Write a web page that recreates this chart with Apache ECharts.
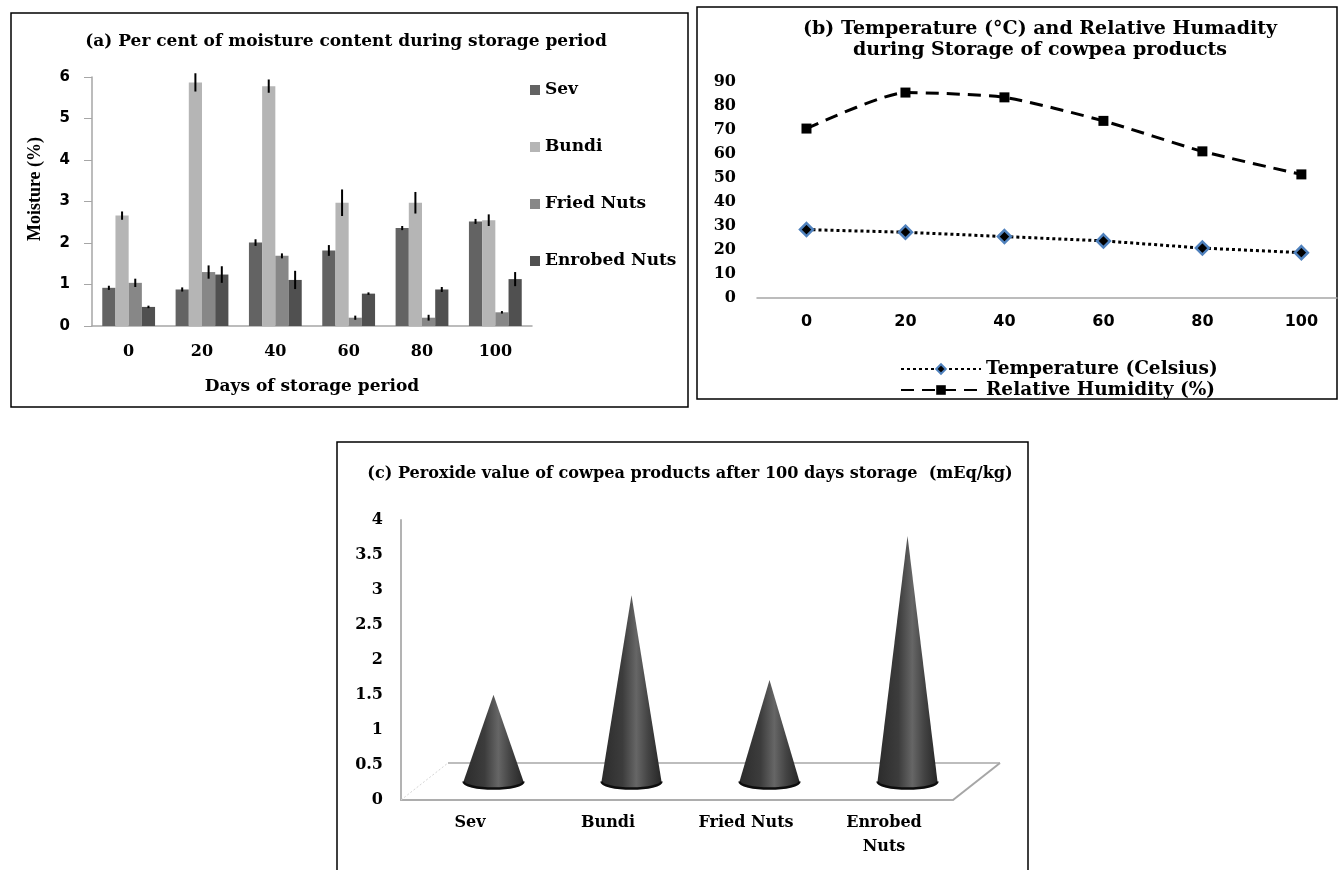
<!DOCTYPE html>
<html>
<head>
<meta charset="utf-8">
<title>Cowpea products during storage</title>
<script src="https://cdn.jsdelivr.net/npm/echarts@6/dist/echarts.min.js"></script>
<style>
html,body{margin:0;padding:0;background:#fff;}
#main{width:1340px;height:870px;}
</style>
</head>
<body>
<div id="main"></div>
<script>
// (a) moisture content (%) during storage
var days = ['0', '20', '40', '60', '80', '100'];
var products = ['Sev', 'Bundi', 'Fried Nuts', 'Enrobed Nuts'];
var sevMoist = [0.92, 0.88, 2.01, 1.82, 2.36, 2.52];
var bundiMoist = [2.66, 5.87, 5.78, 2.97, 2.97, 2.55];
var friedMoist = [1.04, 1.30, 1.69, 0.20, 0.20, 0.33];
var enrobedMoist = [0.46, 1.24, 1.11, 0.78, 0.88, 1.13];
var sevErr = [0.05, 0.05, 0.08, 0.13, 0.05, 0.06];
var bundiErr = [0.10, 0.22, 0.16, 0.32, 0.26, 0.14];
var friedErr = [0.10, 0.16, 0.06, 0.05, 0.07, 0.03];
var enrobedErr = [0.03, 0.20, 0.22, 0.03, 0.06, 0.17];

// (b) temperature and relative humidity
var storageDays = [0, 20, 40, 60, 80, 100];
var tempC = [28.5, 27.4, 25.6, 23.8, 20.8, 18.9];
var relHum = [70.6, 85.6, 83.6, 73.8, 61.1, 51.5];

// (c) peroxide value after 100 days (mEq/kg)
var peroxCats = ['Sev', 'Bundi', 'Fried Nuts', 'Enrobed\nNuts'];
var peroxVals = [1.24, 2.66, 1.45, 3.51];

var chart = echarts.init(document.getElementById('main'));

var SERIF = 'DejaVu Serif';
var SANS = 'DejaVu Sans';
var barColors = ['#636363', '#b5b5b5', '#878787', '#505050'];
var GAP = 0.28;          // bar category gap (a)
var DX = 47, DY = 37;    // fake 3d floor depth (c)

var moistSeries = [sevMoist, bundiMoist, friedMoist, enrobedMoist];
var errSeries = [sevErr, bundiErr, friedErr, enrobedErr];
var errData = [];
moistSeries.forEach(function (arr, s) {
	arr.forEach(function (v, i) { errData.push([i, s, v, errSeries[s][i]]); });
});
var pair = function (ys) { return ys.map(function (y, i) { return [storageDays[i], y]; }); };

var txt = function (size, fam) {
	return {fontFamily: fam || SERIF, fontWeight: 'bold', fontSize: size, color: '#000'};
};

var coneGrad = new echarts.graphic.LinearGradient(0, 0, 1, 0, [
	{offset: 0, color: '#2c2c2c'},
	{offset: 0.35, color: '#3c3c3c'},
	{offset: 0.58, color: '#666'},
	{offset: 0.78, color: '#434343'},
	{offset: 1, color: '#262626'}
]);

var series = products.map(function (name, s) {
	return {
		type: 'bar', name: name, xAxisIndex: 0, yAxisIndex: 0,
		data: moistSeries[s], barGap: '0%', barCategoryGap: (GAP * 100) + '%',
		itemStyle: {color: barColors[s]}
	};
});

series.push({//error bars
	type: 'custom', name: 'err', xAxisIndex: 0, yAxisIndex: 0, z: 5, silent: true,
	data: errData, encode: {x: 0, y: 2},
	renderItem: function (params, api) {
		var cat = api.value(0), s = api.value(1), v = api.value(2), e = api.value(3);
		var c = api.coord([cat, v]);
		var barW = api.size([1, 0])[0] * (1 - GAP) / 4;
		var x = c[0] + (s - 1.5) * barW;
		var hi = api.coord([cat, v + e])[1], lo = api.coord([cat, v - e])[1];
		return {type: 'line', shape: {x1: x, y1: hi, x2: x, y2: lo}, style: {stroke: '#000', lineWidth: 2}};
	}
});

series.push({
	type: 'line', name: 'Temperature (Celsius)', xAxisIndex: 1, yAxisIndex: 1, data: pair(tempC),
	symbol: 'diamond', symbolSize: 13,
	lineStyle: {color: '#000', width: 3, type: [3, 3]},
	itemStyle: {color: '#000', borderColor: '#4f81bd', borderWidth: 2.5}
});
series.push({
	type: 'line', name: 'Relative Humidity (%)', xAxisIndex: 1, yAxisIndex: 1, data: pair(relHum),
	symbol: 'rect', symbolSize: 10, smooth: 0.2,
	lineStyle: {color: '#000', width: 3, type: [13, 8]},
	itemStyle: {color: '#000'}
});

series.push({//3d floor
	type: 'custom', name: 'floor', xAxisIndex: 2, yAxisIndex: 2, z: 1, silent: true,
	data: [[0, 0]],
	renderItem: function (params, api) {
		var cs = params.coordSys;
		var x0 = cs.x, x1 = cs.x + cs.width, y0 = cs.y + cs.height;
		return {type: 'group', children: [
			{type: 'line', shape: {x1: x0 + DX, y1: y0 - DY, x2: x1 + DX, y2: y0 - DY}, style: {stroke: '#bdbdbd', lineWidth: 2}},
			{type: 'line', shape: {x1: x1, y1: y0, x2: x1 + DX, y2: y0 - DY}, style: {stroke: '#a6a6a6', lineWidth: 2}},
			{type: 'line', shape: {x1: x0, y1: y0, x2: x0 + DX, y2: y0 - DY}, style: {stroke: '#d6d6d6', lineWidth: 1, lineDash: [2, 2]}}
		]};
	}
});

series.push({//cones
	type: 'custom', name: 'peroxide', xAxisIndex: 2, yAxisIndex: 2, z: 5, silent: true,
	data: peroxVals.map(function (v, i) { return [i, v]; }),
	renderItem: function (params, api) {
		var base = api.coord([api.value(0), 0]);
		var top = api.coord([api.value(0), api.value(1)]);
		var cx = base[0] + DX / 2, by = base[1] - DY / 2, ay = top[1] - DY / 2;
		var hw = 30, ry = 7;
		var body = 'M' + cx + ',' + ay + ' L' + (cx + hw) + ',' + by + ' A' + hw + ',' + ry + ' 0 0 1 ' + (cx - hw) + ',' + by + ' Z';
		var rim = 'M' + (cx - hw) + ',' + by + ' A' + hw + ',' + ry + ' 0 0 0 ' + (cx + hw) + ',' + by;
		return {type: 'group', children: [
			{type: 'path', shape: {pathData: body}, style: {fill: coneGrad}},
			{type: 'path', shape: {pathData: rim}, style: {fill: null, stroke: '#0d0d0d', lineWidth: 2.5}}
		]};
	}
});

var option = {
	animation: false,
	backgroundColor: '#fff',
	title: [
		{text: '(a) Per cent of moisture content during storage period', left: 346, top: 33, padding: 0, textAlign: 'center', textStyle: txt(17)},
		{text: '(b) Temperature (°C) and Relative Humadity\nduring Storage of cowpea products', left: 1040, top: 18.5, padding: 0, textAlign: 'center', textStyle: Object.assign(txt(19), {lineHeight: 21})},
		{text: '(c) Peroxide value of cowpea products after 100 days storage  (mEq/kg)', left: 690, top: 466, padding: 0, textAlign: 'center', textStyle: txt(16.1)}
	],
	legend: [
		{data: products, orient: 'vertical', left: 530, top: 80, padding: 0, icon: 'rect', itemWidth: 10, itemHeight: 10, itemGap: 37,
			textStyle: Object.assign(txt(17), {lineHeight: 20})},
		{data: ['Temperature (Celsius)', 'Relative Humidity (%)'], orient: 'vertical', left: 900, top: 359, padding: 0, itemWidth: 80, itemHeight: 12, itemGap: 1,
			textStyle: Object.assign(txt(18.5), {lineHeight: 20})}
	],
	grid: [
		{left: 92, top: 77, width: 440, height: 249},
		{left: 757, top: 82, width: 580, height: 216},
		{left: 401, top: 520, width: 552, height: 280}
	],
	xAxis: [
		{type: 'category', gridIndex: 0, data: days,
			axisLine: {lineStyle: {color: '#a6a6a6', width: 1.5}}, axisTick: {show: false},
			axisLabel: Object.assign(txt(16), {margin: 18}),
			name: 'Days of storage period', nameLocation: 'middle', nameGap: 52, nameTextStyle: txt(17)},
		{type: 'value', gridIndex: 1, min: -10, max: 107.2, splitLine: {show: false},
			axisLine: {lineStyle: {color: '#a6a6a6', width: 1.5}}, axisTick: {show: false},
			axisLabel: Object.assign(txt(16, SANS), {margin: 16, customValues: storageDays})},
		{type: 'category', gridIndex: 2, data: peroxCats,
			axisLine: {lineStyle: {color: '#adadad', width: 2}}, axisTick: {show: false},
			axisLabel: Object.assign(txt(16), {margin: 11, lineHeight: 24})}
	],
	yAxis: [
		{type: 'value', gridIndex: 0, min: 0, max: 6, interval: 1, splitLine: {show: false},
			axisLine: {show: true, lineStyle: {color: '#a6a6a6', width: 1.5}},
			axisTick: {show: true, length: 8, lineStyle: {color: '#a6a6a6'}},
			axisLabel: Object.assign(txt(15, SANS), {margin: 22})},
		{type: 'value', gridIndex: 1, min: 0, max: 90, interval: 10, splitLine: {show: false},
			axisLine: {show: false}, axisTick: {show: false},
			axisLabel: Object.assign(txt(16), {margin: 21})},
		{type: 'value', gridIndex: 2, min: 0, max: 4, interval: 0.5, splitLine: {show: false},
			axisLine: {show: true, lineStyle: {color: '#b3b3b3', width: 2}}, axisTick: {show: false},
			axisLabel: Object.assign(txt(16), {margin: 18})}
	],
	graphic: [
		{type: 'rect', silent: true, shape: {x: 11, y: 13, width: 677, height: 394}, style: {fill: null, stroke: '#000', lineWidth: 1.5}},
		{type: 'rect', silent: true, shape: {x: 697, y: 7, width: 640, height: 392}, style: {fill: null, stroke: '#000', lineWidth: 1.5}},
		{type: 'rect', silent: true, shape: {x: 337, y: 442, width: 691, height: 440}, style: {fill: null, stroke: '#000', lineWidth: 1.5}},
		{type: 'text', silent: true, x: 35, y: 189, rotation: Math.PI / 2,
			style: {text: 'Moisture (%)', font: 'bold 18px "Liberation Serif"', fill: '#000', textAlign: 'center', textVerticalAlign: 'middle'}}
	],
	series: series
};
chart.setOption(option);
</script>
</body>
</html>
